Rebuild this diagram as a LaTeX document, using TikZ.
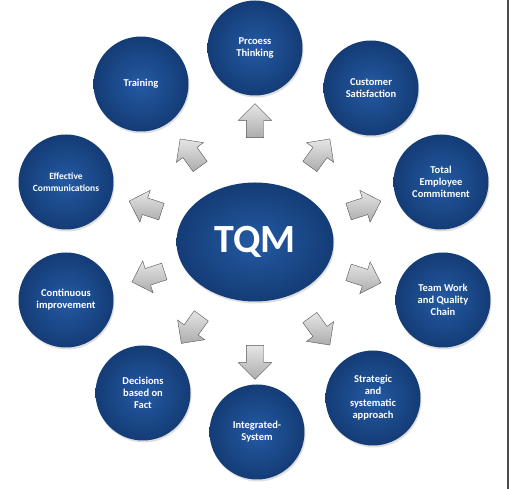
\documentclass[tikz,border=0pt]{standalone}
\usepackage{fontspec}
\setmainfont{Carlito}
\usetikzlibrary{shapes.geometric,shapes.arrows}
\usetikzlibrary{shadows}

\definecolor{ballin}{RGB}{36,90,163}
\definecolor{ballout}{RGB}{20,60,118}

\begin{document}
\begin{tikzpicture}[x=1pt,y=1pt,
    ball/.style={circle,minimum size=95pt,inner sep=0pt,inner color=ballin,outer color=ballout,
      drop shadow={opacity=0.25,shadow xshift=1pt,shadow yshift=-2pt},
      text=white,font=\bfseries\fontsize{10.5}{12}\selectfont,align=center},
    blockarrow/.style={single arrow,minimum height=34pt,inner sep=8.5pt,single arrow head extend=8pt,
      top color=gray!20,bottom color=gray!65,draw=gray!65!black,line width=0.4pt}]
  \useasboundingbox (0,0) rectangle (509,489);
  \draw[gray!60!black,line width=1.5pt] (508,0)--(508,489);

  \node[ball,ellipse,minimum width=157pt,minimum height=119pt,font=\bfseries\fontsize{40}{40}\selectfont] (tqm) at (255,247) {TQM};

  \node[ball] (proc) at (255,441) {Prcoess\\Thinking};
  \node[ball] (cust) at (371,401) {Customer\\Satisfaction};
  \node[ball] (total) at (441,307) {Total\\Employee\\Commitment};
  \node[ball] (team) at (443,189) {Team Work\\and Quality\\Chain};
  \node[ball] (strat) at (373,91) {Strategic\\and\\systematic\\approach};
  \node[ball] (integ) at (257,57) {Integrated-\\System};
  \node[ball] (dec) at (143,96) {Decisions\\based on\\Fact};
  \node[ball] (cont) at (66,189) {Continuous\\improvement};
  \node[ball,font=\bfseries\fontsize{9.5}{11.5}\selectfont] (eff) at (66,307) {Effective\\Communications};
  \node[ball] (train) at (141,405) {Training};

  % arrows from the centre out to the circles
  \foreach \a/\d [count=\i] in {90/117,54/106,18/111,-18/111,-54/106,-90/116,-126/104,-162/108,162/111,126/106}
    \node[blockarrow,rotate=\a] (arr\i) at ([shift={(\a:\d)}]tqm) {};
\end{tikzpicture}
\end{document}
